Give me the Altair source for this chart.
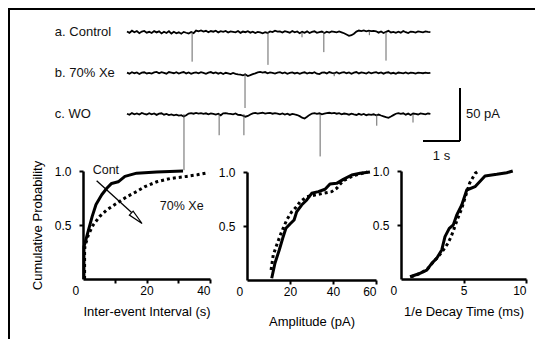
import altair as alt
import pandas as pd

FONT = "Liberation Sans"
W, H = 527, 331

# ---------------- recordings (top) ----------------
trace_names = ["a. Control", "b. 70% Xe", "c. WO"]
trace_offsets = [0.0, -38.7, -77.4]          # pA, vertical placement of each sweep
sweep_duration = 8.2                          # s
label_time = -1.95                            # s, where the sweep names sit

noise_ctrl = [
    0.5, -0.8, 1.2, -0.3, 0.9, -1.1, 0.4, 1.0, -0.6, 0.2,
    -1.0, 0.8, -0.4, 0.6, -1.3, 0.3, -0.9, 0.7, -1.5, 0.2,
    -1.2, -0.3, -1.6, 0.1, -0.7, -1.4, 0.0, -1.1, 1.3, 0.6,
    1.5, 0.4, 1.1, -0.2, 0.9, 0.3, 1.2, -0.4, 0.8, 0.1,
    1.0, -0.5, 0.6, 0.2, -0.3, 0.9, -0.8, 0.4, -0.2, 0.7,
    -0.6, 0.3, -1.0, 0.1, -0.4, -1.2, -0.2, -0.9, 0.5, -0.1,
    1.2, 0.3, 0.6, -0.5, 0.8, 0.2, -0.6, 0.9, -0.3, 0.5,
    -1.1, 0.2, -0.7, 0.6, -0.9, 0.1, 0.7, -0.8, -0.2, 0.4,
    -0.9, 0.3, -0.5, 0.6, 0.2, -0.4, 0.5, -0.3, -1.2, -2.4,
    -3.6, -3.0, -1.6, 0.4, 1.4, 0.8, 1.5, 0.6, 1.2, 0.9,
    1.0, 0.7, -0.6, 0.5, -0.9, 0.2, 1.1, -0.4, 0.1, -0.8,
    0.3, -0.6, 0.9, -0.2, -1.0, 0.4, 0.1, -0.5, 0.6, 0.2,
    -0.3, 0.5, 0.1, -0.2,
]
noise_xe = [
    0.4, -0.6, 0.8, -0.2, 0.5, -0.9, 0.3, 0.7, -0.4, 0.2,
    -0.5, 0.6, 1.0, -0.3, 0.8, 0.2, -0.6, 0.9, 0.4, -0.2,
    0.7, -0.5, 0.3, 0.9, -0.4, 0.5, -0.8, 0.2, 0.6, -0.3,
    0.8, 0.1, -0.7, 0.4, 0.9, -0.2, 0.5, -0.6, 0.3, -0.9,
    0.2, -0.4, -1.0, 0.1, -0.8, -1.3, -1.6, -2.2, -1.4, -2.8,
    -2.0, -1.1, -0.3, 0.6, 1.0, 0.4, 0.9, -0.2, 0.6, 0.2,
    -0.5, 0.4, 0.8, -0.3, 0.5, -0.7, 0.1, 0.6, -0.4, 0.3,
    -0.8, 0.2, 0.7, -0.5, 0.4, -0.2, 0.8, -0.6, -1.0, 0.3,
    0.6, -0.4, 0.9, 0.2, -0.3, 0.7, -0.5, 0.4, 0.8, -0.2,
    0.5, -0.7, 0.3, 0.9, -0.4, 0.6, 0.1, -0.5, 0.7, -0.3,
    0.4, 0.8, -0.2, 0.5, -0.6, 0.3, 0.7, -0.4, 0.2, -0.8,
    0.5, 0.1, -0.3, 0.6, -0.5, 0.4, 0.2, -0.6, 0.3, 0.1,
    -0.2, 0.4, -0.1, 0.2,
]
noise_wo = [
    0.3, -0.7, 0.9, -0.2, 0.6, -0.5, 1.0, 0.2, -0.4, 0.8,
    -0.3, 0.5, -0.8, 0.3, 0.7, -0.6, 0.1, -1.0, -0.4, -1.3,
    -0.6, -1.5, -1.1, -2.4, -1.2, 0.4, 0.8, 0.3, 1.0, 0.5,
    0.9, 0.2, 0.7, -0.2, 0.6, 0.1, -0.5, 0.3, -1.2, 0.6,
    0.9, 0.4, 0.1, -0.3, 0.5, -0.7, -0.9, -1.6, -2.5, -1.8,
    -0.4, 0.6, 1.1, 0.5, 0.9, 1.2, 0.4, 0.8, 1.0, 0.3,
    0.9, 0.5, -0.2, 0.6, -0.5, 0.3, -0.8, 0.2, -0.4, -0.9,
    -2.0, -3.4, -4.2, -2.6, -0.8, 0.5, 0.9, 0.2, 0.7, -0.3,
    0.4, 0.9, 1.2, 0.6, 1.0, 0.3, 0.8, -0.2, 0.5, 0.1,
    -0.6, 0.3, -0.4, -0.9, 0.2, -0.7, 0.1, -1.1, -0.3, -0.8,
    -0.2, -1.2, -0.5, -1.4, -2.2, -3.0, -3.6, -2.4, -1.0, 0.3,
    0.9, 0.2, 0.7, -0.6, 0.4, -0.9, 0.5, 0.1, -0.4, 0.6,
    0.2, -0.3, 0.5, 0.1,
]

# synaptic events: sweep index, time (s), amplitude (pA)
spike_trace = [0, 0, 0, 0, 0, 0, 1, 1, 2, 2, 2, 2, 2, 2]
spike_time = [1.76, 3.81, 5.32, 7.00, 4.73, 6.55, 3.19, 5.60, 1.54, 2.49, 3.16, 5.22, 6.75, 7.73]
spike_amp = [28, 31, 19, 27, 5, 3, 33, 3, 53, 20, 20, 40, 11, 8]

# scale bar: 1 s, 50 pA
bar_t = [8.0, 9.0]
bar_v = [-52.8, -102.8]
bar_texts = ["50 pA", "1 s"]

# ---------------- cumulative distributions (bottom) ----------------
iei_ctrl_x = [0.3, 0.3, 0.6, 1.7, 2.9, 4.1, 5.9, 7.5, 9.0, 11.1, 13.2, 16.9, 23.2, 31.5]
iei_ctrl_p = [0.0, 0.30, 0.33, 0.45, 0.58, 0.69, 0.78, 0.84, 0.885, 0.90, 0.95, 0.98, 0.99, 1.0]
iei_xe_x = [0.5, 0.5, 0.6, 1.7, 3.2, 5.3, 7.5, 10.6, 13.7, 16.9, 19.5, 23.2, 27.4, 32.6, 36.0, 39.5]
iei_xe_p = [0.0, 0.25, 0.30, 0.41, 0.50, 0.58, 0.64, 0.70, 0.76, 0.81, 0.855, 0.90, 0.93, 0.95, 0.965, 0.985]

amp_ctrl_x = [11.5, 13.0, 15.0, 16.6, 18.1, 20.0, 21.9, 23.1, 25.4, 27.8, 30.1, 33.2, 36.3, 38.6, 41.7, 44.8, 48.7, 52.6, 57.2]
amp_ctrl_p = [0.016, 0.155, 0.278, 0.386, 0.479, 0.519, 0.556, 0.632, 0.694, 0.741, 0.803, 0.818, 0.84, 0.889, 0.895, 0.932, 0.972, 0.988, 1.0]
amp_xe_x = [11.2, 12.2, 14.1, 16.1, 18.5, 20.8, 22.8, 24.7, 27.8, 31.6, 35.5, 39.4, 41.7, 44.8, 50.0, 56.0]
amp_xe_p = [0.093, 0.231, 0.34, 0.447, 0.556, 0.632, 0.673, 0.725, 0.771, 0.787, 0.803, 0.818, 0.849, 0.92, 0.97, 1.0]

dec_ctrl_x = [0.72, 1.38, 2.06, 2.46, 2.86, 3.26, 3.52, 3.86, 4.18, 4.46, 4.86, 5.26, 5.92, 6.72, 7.66, 8.46, 8.94]
dec_ctrl_p = [0.021, 0.046, 0.083, 0.145, 0.192, 0.269, 0.392, 0.469, 0.5, 0.593, 0.685, 0.824, 0.855, 0.954, 0.969, 0.984, 1.0]
dec_xe_x = [0.8, 1.5, 2.1, 2.6, 3.0, 3.4, 3.75, 4.0, 4.2, 4.5, 4.85, 5.2, 5.5, 5.75, 5.95, 6.2]
dec_xe_p = [0.02, 0.05, 0.09, 0.16, 0.21, 0.27, 0.33, 0.39, 0.45, 0.55, 0.65, 0.78, 0.89, 0.94, 0.98, 1.0]

# panel-1 annotation
ann_texts = ["Cont", "70% Xe"]
ann_x = [7.2, 31.1]
ann_p = [1.01, 0.676]
arrow_x = [4.3, 15.4]
arrow_p = [0.91, 0.614]
arrowhead_x = [16.9]
arrowhead_p = [0.562]

# ================= build =================
rows = []
for name, off, noise in zip(trace_names, trace_offsets, [noise_ctrl, noise_xe, noise_wo]):
    dt = sweep_duration / (len(noise) - 1)
    for i, n in enumerate(noise):
        rows.append({"trace": name, "t": i * dt, "v": off + n})
trace_df = pd.DataFrame(rows)

spike_df = pd.DataFrame({
    "t": spike_time,
    "v": [trace_offsets[k] for k in spike_trace],
    "v2": [trace_offsets[k] - a for k, a in zip(spike_trace, spike_amp)],
})
label_df = pd.DataFrame({"t": [label_time] * 3, "v": trace_offsets, "name": trace_names})
barv_df = pd.DataFrame({"t": [bar_t[1]], "v": [bar_v[0]], "v2": [bar_v[1]]})
barh_df = pd.DataFrame({"t": [bar_t[0]], "t2": [bar_t[1]], "v": [bar_v[1]]})
bart1_df = pd.DataFrame({"t": [bar_t[1]], "v": [(bar_v[0] + bar_v[1]) / 2], "s": [bar_texts[0]]})
bart2_df = pd.DataFrame({"t": [(bar_t[0] + bar_t[1]) / 2], "v": [bar_v[1]], "s": [bar_texts[1]]})

tx = alt.Scale(domain=[0, 10], range=[119, 489], nice=False, zero=False)
ty = alt.Scale(domain=[0, -100], range=[24, 130], nice=False, zero=False)
TX = lambda f="t": alt.X(f"{f}:Q", scale=tx, axis=None)
TY = lambda f="v": alt.Y(f"{f}:Q", scale=ty, axis=None)

traces = alt.layer(
    alt.Chart(trace_df).mark_line(color="#000", strokeWidth=1.8, strokeJoin="miter").encode(
        x=TX(), y=TY(), detail="trace:N", order="t:Q"),
    alt.Chart(spike_df).mark_rule(color="#555", strokeWidth=0.9).encode(
        x=TX(), y=TY(), y2="v2:Q"),
    alt.Chart(label_df).mark_text(align="left", baseline="middle", font=FONT, fontSize=13, color="#111").encode(
        x=TX(), y=TY(), text="name:N"),
    alt.Chart(barv_df).mark_rule(color="black", strokeWidth=2).encode(x=TX(), y=TY(), y2="v2:Q"),
    alt.Chart(barh_df).mark_rule(color="black", strokeWidth=2).encode(x=TX(), x2="t2:Q", y=TY()),
    alt.Chart(bart1_df).mark_text(align="left", baseline="middle", dx=6, font=FONT, fontSize=13, color="#111").encode(
        x=TX(), y=TY(), text="s:N"),
    alt.Chart(bart2_df).mark_text(align="center", baseline="middle", dy=15, font=FONT, fontSize=13, color="#111").encode(
        x=TX(), y=TY(), text="s:N"),
)


def panel(cx, cp, xx, xp, xdom, xr, yr, xvals, hide, xtitle, xtp, ytitle, x_off, y_off, extras=()):
    xs = alt.Scale(domain=xdom, range=xr, nice=False, zero=False)
    ys = alt.Scale(domain=[0, 1], range=yr, nice=False, zero=False)
    hide_expr = "indexof(%s, datum.value) >= 0 ? '' : datum.label" % str(hide)
    xaxis = alt.Axis(
        orient="bottom", offset=x_off, values=xvals, labelExpr=hide_expr,
        title=xtitle, titlePadding=xtp, labelPadding=2, grid=False,
        labelOffset={"condition": {"test": "datum.value == 0", "value": -11}, "value": 0},
        tickOpacity={"condition": {"test": "datum.value == 0", "value": 0}, "value": 1},
    )
    yaxis_kw = dict(orient="left", offset=y_off, values=[0.5, 1.0], format=".1f",
                    labelPadding=8, grid=False)
    if ytitle:
        yaxis = alt.Axis(title=ytitle, titlePadding=10, **yaxis_kw)
    else:
        yaxis = alt.Axis(title=None, **yaxis_kw)
    cdf = pd.DataFrame({"x": cx, "p": cp, "o": range(len(cx))})
    xdf = pd.DataFrame({"x": xx, "p": xp, "o": range(len(xx))})
    layers = [
        alt.Chart(xdf).mark_line(color="black", strokeWidth=3, strokeDash=[3, 3], strokeCap="butt").encode(
            x=alt.X("x:Q", scale=xs, axis=xaxis), y=alt.Y("p:Q", scale=ys, axis=yaxis), order="o:Q"),
        alt.Chart(cdf).mark_line(color="black", strokeWidth=3, strokeJoin="round").encode(
            x=alt.X("x:Q", scale=xs, axis=xaxis), y=alt.Y("p:Q", scale=ys, axis=yaxis), order="o:Q"),
    ]
    for e in extras:
        layers.append(e(xs, ys))
    return alt.layer(*layers)


def ann_text(xs, ys):
    df = pd.DataFrame({"x": ann_x, "p": ann_p, "s": ann_texts})
    return alt.Chart(df).mark_text(font=FONT, fontSize=12.5, color="#111", baseline="middle").encode(
        x=alt.X("x:Q", scale=xs), y=alt.Y("p:Q", scale=ys), text="s:N")


def ann_arrow(xs, ys):
    df = pd.DataFrame({"x": arrow_x, "p": arrow_p})
    return alt.Chart(df).mark_line(color="black", strokeWidth=1.3).encode(
        x=alt.X("x:Q", scale=xs), y=alt.Y("p:Q", scale=ys))


def ann_head(xs, ys):
    df = pd.DataFrame({"x": arrowhead_x, "p": arrowhead_p})
    return alt.Chart(df).mark_point(shape="M0,-1L0.36,1L-0.36,1Z", size=225, filled=True, fill="white",
                                    stroke="black", strokeWidth=1.2, opacity=1, angle=134).encode(
        x=alt.X("x:Q", scale=xs), y=alt.Y("p:Q", scale=ys))


p1 = panel(iei_ctrl_x, iei_ctrl_p, iei_xe_x, iei_xe_p, [0, 40], [75, 202], [271, 163],
           [0, 10, 20, 30, 40], [10, 30], "Inter-event Interval (s)", 9, "Cumulative Probability",
           271 - H, -75, extras=(ann_arrow, ann_head, ann_text))
p2 = panel(amp_ctrl_x, amp_ctrl_p, amp_xe_x, amp_xe_p, [0, 60], [239, 368], [272, 164],
           [0, 20, 40, 60], [], "Amplitude  (pA)", 18, None, 272 - H, -239)
p3 = panel(dec_ctrl_x, dec_ctrl_p, dec_xe_x, dec_xe_p, [0, 10], [393, 518], [271, 163],
           [0, 5, 10], [], "1/e Decay Time (ms)", 9, None, 271 - H, -393)

frame_top = alt.Chart(pd.DataFrame({"k": [0]})).mark_rule(color="black", strokeWidth=2).encode(
    x=alt.value(0), x2=alt.value(W), y=alt.value(1))
frame_left = alt.Chart(pd.DataFrame({"k": [0]})).mark_rule(color="black", strokeWidth=2).encode(
    x=alt.value(1), y=alt.value(0), y2=alt.value(H))

chart = alt.layer(frame_top, frame_left, traces, p1, p2, p3).resolve_scale(
    x="independent", y="independent"
).properties(
    width=W, height=H, autosize=alt.AutoSizeParams(type="none"), padding=0
).configure_view(stroke=None).configure_axis(
    labelFont=FONT, labelFontSize=12, labelColor="black",
    titleFont=FONT, titleFontSize=13, titleFontWeight="normal", titleColor="black",
    domainColor="black", domainWidth=2.5, tickColor="black", tickWidth=2, tickSize=4,
)

chart.save("out.html", embed_options={"renderer": "svg", "actions": False})
